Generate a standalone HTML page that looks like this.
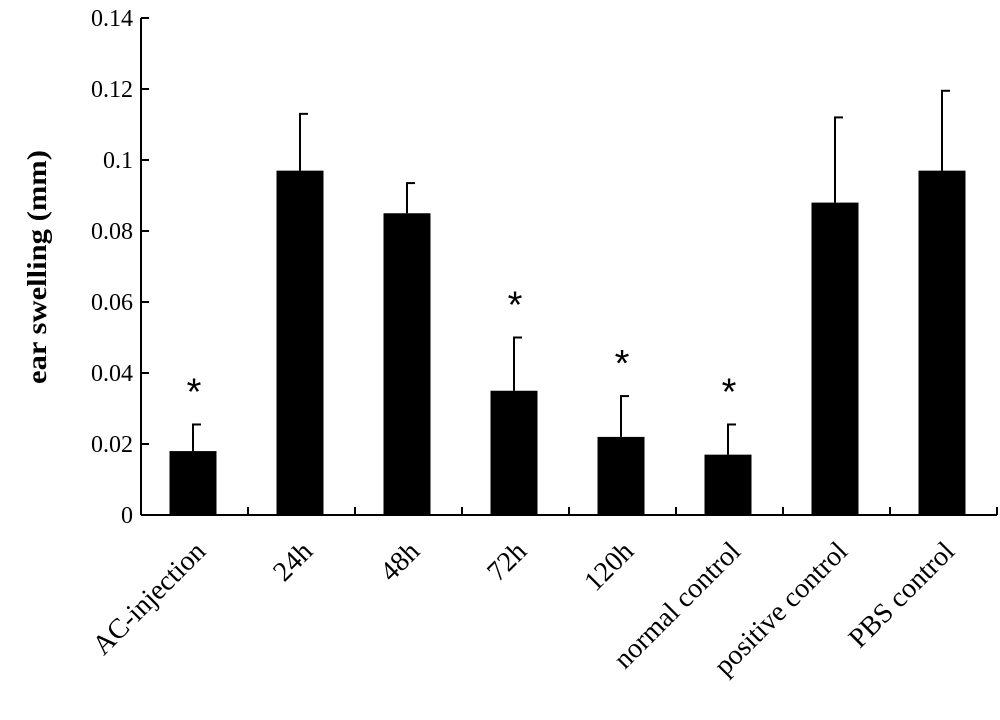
<!DOCTYPE html>
<html><head><meta charset="utf-8"><style>
html,body{margin:0;padding:0;background:#fff;}
svg{display:block;font-family:"Liberation Serif",serif;}
</style></head><body>
<svg id="chart" width="1000" height="720"></svg>
<script>
const categories=["AC-injection","24h","48h","72h","120h","normal control","positive control","PBS control"];
const values=[0.018,0.097,0.085,0.035,0.022,0.017,0.088,0.097];
const errors=[0.0075,0.016,0.0085,0.015,0.0115,0.0085,0.024,0.0225];
const starred=[true,false,false,true,true,true,false,false];
const yTicks=[0,0.02,0.04,0.06,0.08,0.1,0.12,0.14];
const yTickLabels=["0","0.02","0.04","0.06","0.08","0.1","0.12","0.14"];
const NS="http://www.w3.org/2000/svg";
const svg=document.getElementById('chart');
const X0=141,Y0=515,Y1=18,YMAX=0.14;
const band=107;
const y=v=>Y0-(v/YMAX)*(Y0-Y1);
const xc=i=>X0+band*(i+0.5)-1.5;
function mk(t,a,p){const e=document.createElementNS(NS,t);for(const k in a)e.setAttribute(k,a[k]);(p||svg).appendChild(e);return e;}
const axes=mk('g',{});


const ya=mk('line',{x1:X0,y1:Y1,x2:X0,y2:Y0,stroke:'#000','stroke-width':2},axes);


const xa=mk('line',{x1:X0,y1:Y0,x2:X0+band*8,y2:Y0,stroke:'#000','stroke-width':2},axes);


yTicks.forEach((v,i)=>{
  mk('line',{x1:X0,y1:y(v),x2:X0+8,y2:y(v),stroke:'#000','stroke-width':2},axes);
  const t=mk('text',{x:X0-8,y:y(v)+8,'text-anchor':'end','font-size':24},axes);
  t.textContent=yTickLabels[i];
  
  
});
for(let i=1;i<=categories.length;i++){mk('line',{x1:X0+band*i,y1:Y0,x2:X0+band*i,y2:Y0-8,stroke:'#000','stroke-width':2},axes);}
const yt=mk('text',{x:0,y:0,transform:'translate(46,267) rotate(-90)','text-anchor':'middle','font-size':27,'font-weight':'bold',textLength:234,lengthAdjust:'spacingAndGlyphs'});
yt.textContent='ear swelling (mm)';


categories.forEach((c,i)=>{
  const cx=xc(i),bw=47;
  const top=y(values[i]),et=y(values[i]+errors[i]);
  const eb=mk('line',{x1:cx,y1:top,x2:cx,y2:et,stroke:'#000','stroke-width':2});
  
  
  mk('line',{x1:cx-1,y1:et,x2:cx+8,y2:et,stroke:'#000','stroke-width':2});
  const r=mk('rect',{x:cx-bw/2,y:top,width:bw,height:Y0-top,fill:'#000'});
  
  
  if(starred[i]){
    const s=mk('text',{x:cx+1,y:et-20,'text-anchor':'middle','font-size':38,'font-family':'Liberation Sans, sans-serif'});
    s.textContent='*';
    
    
  }
  const l=mk('text',{x:0,y:0,transform:`translate(${cx+14},${Y0+38}) rotate(-45)`,'text-anchor':'end','font-size':28});
  l.textContent=c;
  
  
});
</script>
</body></html>
